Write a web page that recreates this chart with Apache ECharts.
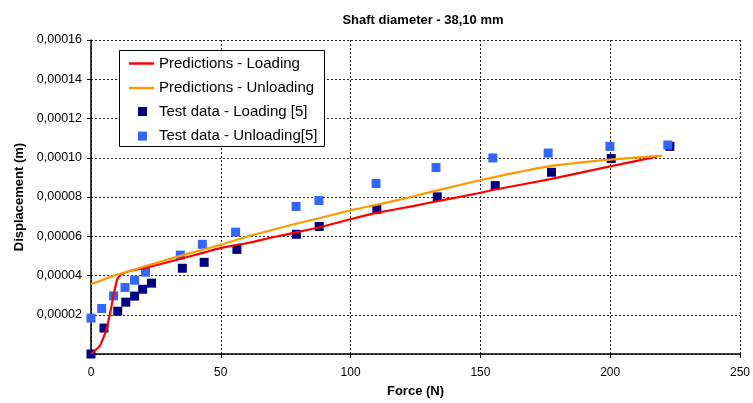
<!DOCTYPE html>
<html><head><meta charset="utf-8">
<script src="https://cdn.jsdelivr.net/npm/echarts@6/dist/echarts.min.js"></script>
<style>html,body{margin:0;padding:0;background:#fff}#c{width:753px;height:403px}</style>
</head><body><div id="c"></div>
<script>
const title = 'Shaft diameter - 38,10 mm';
const xName = 'Force (N)';
const yName = 'Displacement (m)';
const seriesNames = ['Predictions - Loading','Predictions - Unloading','Test data - Loading [5]','Test data - Unloading[5]'];

const predLoading = [[0,0],[3.4,0.0000042],[6,0.0000127],[7.9,0.0000245],[8.9,0.0000313],[10.1,0.0000381],[11.7,0.0000406],[14.9,0.0000423],[21.3,0.000044],[34,0.0000483],[50.6,0.0000542],[60.8,0.0000567],[70,0.0000595],[80,0.0000622],[90,0.0000652],[100.3,0.0000688],[110.5,0.000072],[124.5,0.0000755],[133.4,0.0000779],[148.7,0.0000818],[155.7,0.0000838],[177.4,0.0000892],[200,0.0000956],[218,0.0001005]];
const predUnloading = [[0,0.0000355],[8.5,0.0000398],[21.3,0.0000449],[34,0.0000499],[50.6,0.0000559],[60.8,0.0000601],[79.3,0.0000665],[88.2,0.0000693],[100.3,0.0000733],[111.7,0.0000765],[124.5,0.0000804],[132.1,0.000083],[143.6,0.0000866],[156.3,0.0000904],[176.1,0.0000956],[200,0.000099],[220,0.0001011]];
const testLoading = [[0,0],[5,0.0000132],[10.3,0.0000218],[13.4,0.0000264],[16.8,0.0000295],[19.9,0.000033],[23.3,0.0000361],[35.2,0.0000437],[43.6,0.0000467],[56.2,0.0000533],[79.1,0.000061],[87.9,0.000065],[110.1,0.0000737],[133.4,0.0000801],[155.7,0.0000858],[177.4,0.0000926],[200.4,0.0000996],[223,0.0001058]];
const testUnloading = [[0,0.0000183],[4.1,0.0000232],[8.7,0.0000296],[13.1,0.0000339],[16.8,0.0000376],[21,0.0000417],[34.4,0.0000504],[42.9,0.0000559],[55.7,0.0000621],[79,0.0000752],[87.8,0.0000782],[109.8,0.0000869],[132.9,0.000095],[154.8,0.0000999],[176.1,0.0001024],[199.9,0.0001058],[222.2,0.0001065]];
const xTicks = {min:0,max:250,interval:50};
const yTicks = {min:0,max:0.00016,interval:0.00002};

const chart = echarts.init(document.getElementById('c'));
const font = 'Liberation Sans, Arial, sans-serif';
const dash = {type:[2,2],color:'#222',width:1};
chart.setOption({
  animation:false,
  backgroundColor:'#fff',
  textStyle:{fontFamily:font},
  title:{text:title,left:418,top:9,textAlign:'center',
    textStyle:{fontFamily:font,fontSize:13,fontWeight:'bold',color:'#000'}},
  grid:{left:91,right:8,top:40,bottom:48},
  graphic:[{type:'rect',shape:{x:119.5,y:50.5,width:205,height:96},
    style:{fill:'#fff',stroke:'#000',lineWidth:1},z:50}],
  legend:[
    {data:[seriesNames[0],seriesNames[1]],orient:'vertical',left:129,top:56,
      icon:'rect',itemWidth:25,itemHeight:2.5,itemGap:9.6,padding:0,z:60,
      textStyle:{fontFamily:font,fontSize:15,color:'#000',lineHeight:14}},
    {data:[seriesNames[2],seriesNames[3]],orient:'vertical',left:138,top:104,
      icon:'rect',itemWidth:9,itemHeight:9,itemGap:9.6,padding:0,z:60,
      textStyle:{fontFamily:font,fontSize:15,color:'#000',lineHeight:14,padding:[0,0,0,7]}}
  ],
  xAxis:{type:'value',min:xTicks.min,max:xTicks.max,interval:xTicks.interval,
    name:xName,nameLocation:'middle',nameGap:31,
    nameTextStyle:{fontFamily:font,fontSize:13,fontWeight:'bold',color:'#000'},
    axisLine:{lineStyle:{color:'#000',width:1.5}},
    axisTick:{show:true,length:4,lineStyle:{color:'#000'}},
    axisLabel:{fontFamily:font,fontSize:12,color:'#000',margin:13},
    splitLine:{show:true,lineStyle:dash}},
  yAxis:{type:'value',min:yTicks.min,max:yTicks.max,interval:yTicks.interval,
    name:yName,nameLocation:'middle',nameGap:65,
    nameTextStyle:{fontFamily:font,fontSize:13,fontWeight:'bold',color:'#000'},
    axisLine:{show:true,lineStyle:{color:'#000',width:1.5}},
    axisTick:{show:true,length:4,lineStyle:{color:'#000'}},
    axisLabel:{fontFamily:font,fontSize:12.5,color:'#000',margin:9,showMinLabel:false,
      formatter:v=>v===0?'':v.toFixed(5).replace('.',',')},
    splitLine:{show:true,lineStyle:dash}},
  series:[
    {name:seriesNames[2],type:'scatter',data:testLoading,symbol:'rect',symbolSize:9,
      itemStyle:{color:'#000080',opacity:1},z:3},
    {name:seriesNames[3],type:'scatter',data:testUnloading,symbol:'rect',symbolSize:9,
      itemStyle:{color:'#3366FF',opacity:1},z:3},
    {name:seriesNames[0],type:'line',data:predLoading,symbol:'none',smooth:0.15,
      lineStyle:{color:'#FF0000',width:2.2},itemStyle:{color:'#FF0000'},z:4},
    {name:seriesNames[1],type:'line',data:predUnloading,symbol:'none',smooth:0.15,
      lineStyle:{color:'#FF9900',width:2.2},itemStyle:{color:'#FF9900'},z:4}
  ]
});
</script></body></html>
